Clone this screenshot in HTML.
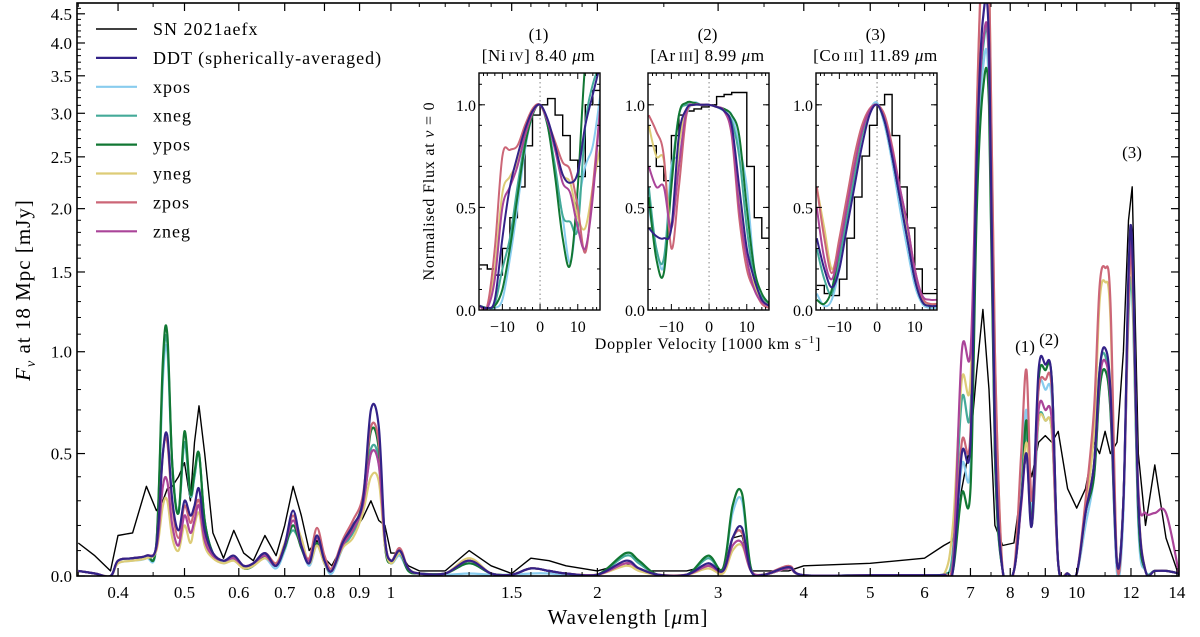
<!DOCTYPE html>
<html><head><meta charset="utf-8">
<style>
html,body{margin:0;padding:0;background:#fff;}
svg text{font-family:"Liberation Serif","DejaVu Serif",serif;fill:#000;}
</style></head>
<body>
<svg id="chart" width="1200" height="632" viewBox="0 0 1200 632" xmlns="http://www.w3.org/2000/svg">
<defs>
<clipPath id="mainclip"><rect x="77" y="3" width="1102" height="573"/></clipPath>
<clipPath id="ic0"><rect x="479" y="73" width="121" height="237"/></clipPath>
<clipPath id="ic1"><rect x="648" y="73" width="121" height="237"/></clipPath>
<clipPath id="ic2"><rect x="816" y="73" width="121" height="237"/></clipPath>
</defs>
<g id="main-series" clip-path="url(#mainclip)"></g>
<g id="axes"></g>
<g id="insets"></g>
<text x="628" y="624" font-size="21" letter-spacing="1" text-anchor="middle">Wavelength [<tspan font-style="italic">μ</tspan>m]</text>
<text transform="translate(30,290) rotate(-90)" font-size="21" letter-spacing="1" text-anchor="middle"><tspan font-style="italic">F</tspan><tspan font-style="italic" font-size="14" dy="5">ν</tspan><tspan dy="-5"> at 18 Mpc [mJy]</tspan></text>
<text x="1025" y="352" font-size="17" text-anchor="middle">(1)</text>
<text x="1049" y="345" font-size="17" text-anchor="middle">(2)</text>
<text x="1132" y="158" font-size="17" text-anchor="middle">(3)</text>
<g id="legend"></g>
</svg>
<script>
const wavelengths=[0.35,0.37,0.39,0.40,0.42,0.44,0.455,0.465,0.472,0.48,
0.49,0.50,0.51,0.517,0.525,0.535,0.55,0.57,0.59,0.61,
0.63,0.655,0.68,0.70,0.72,0.74,0.76,0.78,0.80,0.82,
0.85,0.88,0.91,0.935,0.96,0.98,1.0,1.03,1.06,1.1,
1.2,1.3,1.4,1.5,1.6,1.7,1.8,2.0,2.2,2.3,
2.45,2.7,2.9,3.05,3.15,3.25,3.35,3.5,3.8,4.0,
5.0,6.0,6.4,6.6,6.8,7.0,7.15,7.3,7.45,7.6,
7.8,8.1,8.3,8.45,8.6,8.8,9.0,9.2,9.4,9.7,
10.0,10.3,10.6,10.8,11.0,11.2,11.45,11.7,11.9,12.05,
12.3,12.6,13.0,13.5,14.1];
const fluxSN=[0.13,0.08,0.02,0.16,0.17,0.36,0.26,0.30,0.35,0.36,
0.40,0.46,0.30,0.55,0.72,0.50,0.17,0.07,0.18,0.09,
0.06,0.16,0.08,0.20,0.36,0.24,0.10,0.14,0.07,0.04,
0.12,0.17,0.23,0.30,0.22,0.20,0.09,0.09,0.04,0.02,
0.02,0.10,0.04,0.01,0.07,0.06,0.04,0.02,0.05,0.02,
0.02,0.02,0.04,0.02,0.15,0.16,0.02,0.02,0.02,0.04,
0.05,0.07,0.12,0.14,0.35,0.55,0.9,1.25,0.8,0.2,
0.12,0.13,0.35,0.5,0.4,0.55,0.58,0.55,0.6,0.35,
0.27,0.35,0.55,0.5,0.6,0.5,0.55,1.0,1.9,2.2,
0.5,0.2,0.45,0.15,0.0];
const fluxDDT=[0.02,0.01,0.0,0.06,0.07,0.08,0.12,0.50,0.58,0.30,
0.18,0.30,0.24,0.28,0.35,0.18,0.09,0.06,0.08,0.04,
0.05,0.09,0.04,0.12,0.26,0.12,0.05,0.16,0.06,0.02,
0.13,0.20,0.30,0.70,0.62,0.15,0.06,0.10,0.03,0.01,
0.01,0.06,0.01,0.005,0.03,0.02,0.01,0.005,0.06,0.03,
0.005,0.005,0.05,0.02,0.15,0.19,0.02,0.005,0.035,0.003,
0.003,0.003,0.005,0.02,0.5,0.55,2.5,4.4,4.0,0.6,
0.02,0.02,0.3,0.5,0.2,0.9,0.93,0.85,0.05,0.01,
0.01,0.25,0.45,0.9,1.02,0.8,0.05,0.3,1.5,1.7,
0.3,0.02,0.02,0.02,0.01];
const fluxXpos=[0.02,0.01,0.0,0.05,0.06,0.07,0.12,0.85,1.0,0.45,
0.25,0.55,0.32,0.40,0.50,0.22,0.09,0.05,0.07,0.03,
0.04,0.07,0.03,0.10,0.20,0.12,0.04,0.12,0.05,0.01,
0.11,0.18,0.28,0.50,0.45,0.12,0.05,0.08,0.02,0.01,
0.005,0.01,0.005,0.005,0.01,0.01,0.005,0.005,0.08,0.05,
0.005,0.005,0.07,0.03,0.25,0.30,0.03,0.005,0.03,0.003,
0.003,0.003,0.005,0.02,0.45,0.45,2.2,3.6,3.3,0.5,
0.02,0.02,0.35,0.7,0.25,0.8,0.8,0.75,0.05,0.01,
0.01,0.2,0.4,0.8,0.9,0.7,0.01,0.25,1.4,1.6,
0.2,0.02,0.02,0.02,0.01];
const fluxXneg=[0.02,0.01,0.0,0.06,0.07,0.08,0.13,0.90,1.05,0.45,
0.25,0.55,0.32,0.40,0.50,0.22,0.09,0.06,0.07,0.03,
0.04,0.08,0.04,0.12,0.18,0.12,0.05,0.13,0.05,0.02,
0.11,0.17,0.27,0.52,0.47,0.13,0.06,0.09,0.03,0.01,
0.01,0.05,0.01,0.005,0.03,0.02,0.01,0.005,0.08,0.05,
0.005,0.005,0.07,0.02,0.15,0.17,0.02,0.005,0.03,0.003,
0.003,0.003,0.005,0.1,0.75,0.7,2.5,3.9,3.6,0.5,
0.02,0.02,0.3,0.6,0.2,0.65,0.65,0.6,0.05,0.01,
0.01,0.25,0.45,0.9,0.98,0.75,0.05,0.3,1.2,1.35,
0.25,0.02,0.02,0.02,0.01];
const fluxYpos=[0.02,0.01,0.0,0.06,0.07,0.08,0.13,0.95,1.1,0.45,
0.25,0.60,0.33,0.42,0.50,0.22,0.09,0.06,0.07,0.03,
0.04,0.08,0.04,0.11,0.20,0.11,0.05,0.13,0.05,0.02,
0.12,0.19,0.30,0.60,0.52,0.12,0.05,0.09,0.02,0.01,
0.01,0.05,0.01,0.005,0.03,0.02,0.01,0.005,0.09,0.06,
0.005,0.005,0.08,0.03,0.28,0.33,0.03,0.005,0.03,0.003,
0.003,0.003,0.005,0.02,0.33,0.35,2.0,3.3,3.1,0.5,
0.02,0.02,0.3,0.65,0.2,0.85,0.9,0.85,0.05,0.01,
0.01,0.25,0.4,0.8,0.9,0.7,0.05,0.3,1.4,1.66,
0.25,0.02,0.02,0.02,0.01];
const fluxYneg=[0.02,0.01,0.0,0.05,0.06,0.07,0.10,0.28,0.30,0.15,
0.10,0.20,0.13,0.20,0.25,0.12,0.07,0.05,0.06,0.03,
0.04,0.07,0.05,0.13,0.22,0.15,0.05,0.12,0.05,0.02,
0.11,0.15,0.25,0.40,0.38,0.12,0.05,0.09,0.03,0.01,
0.01,0.07,0.01,0.005,0.03,0.02,0.01,0.005,0.04,0.02,
0.005,0.005,0.03,0.01,0.10,0.12,0.02,0.005,0.03,0.003,
0.003,0.003,0.005,0.2,0.85,0.85,3.0,6.0,5.5,1.0,
0.02,0.02,0.3,0.55,0.3,0.65,0.65,0.6,0.05,0.01,
0.01,0.25,0.6,1.3,1.43,1.2,0.05,0.3,1.3,1.45,
0.3,0.02,0.02,0.02,0.01];
const fluxZpos=[0.02,0.01,0.0,0.06,0.07,0.08,0.12,0.50,0.55,0.28,
0.15,0.28,0.21,0.26,0.30,0.16,0.09,0.06,0.08,0.04,
0.05,0.09,0.05,0.12,0.24,0.12,0.07,0.19,0.08,0.03,
0.14,0.22,0.32,0.62,0.55,0.15,0.06,0.11,0.03,0.01,
0.01,0.06,0.01,0.005,0.03,0.02,0.01,0.005,0.05,0.03,
0.005,0.005,0.04,0.02,0.15,0.17,0.02,0.005,0.04,0.003,
0.003,0.003,0.005,0.05,0.55,0.6,3.0,6.0,5.5,1.0,
0.02,0.02,0.5,0.9,0.3,0.8,0.85,0.8,0.05,0.01,
0.01,0.3,0.7,1.4,1.53,1.3,0.05,0.3,1.3,1.55,
0.3,0.02,0.02,0.02,0.01];
const fluxZneg=[0.02,0.01,0.0,0.06,0.07,0.08,0.11,0.36,0.38,0.20,
0.12,0.24,0.17,0.22,0.28,0.14,0.08,0.06,0.07,0.04,
0.05,0.08,0.04,0.12,0.22,0.12,0.06,0.15,0.06,0.02,
0.12,0.18,0.28,0.50,0.45,0.14,0.06,0.10,0.03,0.01,
0.01,0.06,0.01,0.005,0.03,0.02,0.01,0.005,0.05,0.03,
0.005,0.005,0.04,0.02,0.12,0.13,0.02,0.005,0.03,0.003,
0.003,0.003,0.005,0.05,1.0,1.0,2.6,4.0,3.7,0.6,
0.02,0.02,0.28,0.5,0.2,0.7,0.7,0.65,0.05,0.01,
0.01,0.25,0.45,0.85,0.95,0.75,0.05,0.3,1.4,1.6,
0.35,0.25,0.25,0.25,0.01];
const xTickValues=[0.4,0.5,0.6,0.7,0.8,0.9,1,1.5,2,3,4,5,6,7,8,9,10,12,14];
const xTickLabels=["0.4","0.5","0.6","0.7","0.8","0.9","1","1.5","2","3","4","5","6","7","8","9","10","12","14"];
const xMinorTicks=[0.35,0.45,1.1,1.2,1.3,1.4,1.6,1.7,1.8,1.9,2.5,3.5,4.5,5.5,6.5,7.5,8.5,9.5,11,13];
const yTickValues=[0,0.5,1.0,1.5,2.0,2.5,3.0,3.5,4.0,4.5];
const yTickLabels=["0.0","0.5","1.0","1.5","2.0","2.5","3.0","3.5","4.0","4.5"];

const velocities=[-16,-14,-12,-10,-8,-6,-4,-2,0,2,4,6,8,10,12,14,16];
const ni_SN=[0.22,0.2,0.17,0.3,0.45,0.6,0.8,0.95,1.0,1.03,0.95,0.85,0.73,0.65,1.0,1.07,1.05];
const ni_DDT=[0.02,0.01,0.05,0.35,0.6,0.75,0.88,0.97,1.0,0.93,0.8,0.66,0.62,0.67,0.9,1.05,1.2];
const ni_xpos=[0.02,0.01,0.01,0.05,0.25,0.5,0.78,0.95,1.0,0.9,0.68,0.45,0.23,0.5,0.7,0.8,1.05];
const ni_xneg=[0.02,0.01,0.03,0.2,0.35,0.6,0.82,0.96,1.0,0.9,0.7,0.46,0.43,0.4,0.9,1.1,1.2];
const ni_ypos=[0.02,0.01,0.02,0.1,0.3,0.55,0.8,0.95,1.0,0.9,0.65,0.35,0.22,0.6,1.2,1.3,1.3];
const ni_yneg=[0.02,0.01,0.2,0.57,0.65,0.72,0.85,0.96,1.0,0.92,0.8,0.66,0.62,0.45,0.4,0.6,0.8];
const ni_zpos=[0.02,0.02,0.3,0.75,0.78,0.8,0.9,0.98,1.0,0.92,0.82,0.72,0.68,0.5,0.28,0.6,1.0];
const ni_zneg=[0.02,0.01,0.15,0.5,0.6,0.7,0.85,0.96,1.0,0.92,0.78,0.62,0.57,0.4,0.3,0.55,1.0];
const ar_SN=[0.8,0.7,0.63,0.85,0.95,0.97,0.98,0.99,1.0,1.04,1.05,1.06,1.06,0.7,0.45,0.35,0.25];
const ar_DDT=[0.4,0.36,0.35,0.4,0.85,0.98,1.0,1.0,1.0,0.99,0.97,0.9,0.6,0.3,0.15,0.05,0.02];
const ar_xpos=[0.5,0.3,0.22,0.7,0.75,0.95,1.01,1.0,1.0,0.99,0.97,0.95,0.8,0.6,0.2,0.05,0.02];
const ar_xneg=[0.6,0.3,0.25,0.65,0.95,1.0,1.0,1.0,1.0,0.99,0.97,0.92,0.75,0.4,0.15,0.06,0.03];
const ar_ypos=[0.55,0.25,0.18,0.6,0.95,1.01,1.01,1.0,1.0,0.99,0.98,0.95,0.85,0.5,0.2,0.08,0.03];
const ar_yneg=[0.9,0.75,0.73,0.4,0.8,0.97,1.0,1.0,1.0,0.99,0.97,0.88,0.55,0.25,0.12,0.05,0.02];
const ar_zpos=[0.95,0.87,0.75,0.3,0.6,0.95,1.0,1.0,1.0,0.99,0.97,0.85,0.45,0.2,0.1,0.03,0.01];
const ar_zneg=[0.7,0.6,0.6,0.4,0.7,0.97,1.0,1.0,1.0,0.99,0.97,0.86,0.5,0.25,0.1,0.04,0.02];
const co_SN=[0.12,0.08,0.07,0.15,0.35,0.55,0.75,0.9,1.0,1.05,0.85,0.6,0.4,0.2,0.08,0.08,0.07];
const co_DDT=[0.35,0.2,0.11,0.2,0.4,0.6,0.8,0.95,1.0,0.92,0.75,0.55,0.35,0.15,0.04,0.02,0.02];
const co_xpos=[0.08,0.02,0.05,0.2,0.42,0.65,0.85,0.97,1.01,0.9,0.72,0.5,0.3,0.12,0.03,0.01,0.01];
const co_xneg=[0.3,0.15,0.08,0.25,0.45,0.65,0.85,0.96,1.0,0.92,0.75,0.55,0.35,0.15,0.04,0.02,0.02];
const co_ypos=[0.05,0.03,0.1,0.3,0.5,0.7,0.87,0.97,1.0,0.92,0.75,0.55,0.35,0.15,0.04,0.02,0.02];
const co_yneg=[0.6,0.4,0.2,0.33,0.5,0.7,0.87,0.97,1.0,0.93,0.78,0.58,0.4,0.18,0.05,0.03,0.03];
const co_zpos=[0.6,0.35,0.18,0.35,0.55,0.75,0.9,0.98,1.0,0.95,0.8,0.6,0.42,0.2,0.06,0.03,0.03];
const co_zneg=[0.5,0.25,0.15,0.3,0.5,0.7,0.87,0.97,1.0,0.93,0.78,0.6,0.42,0.2,0.07,0.05,0.05];
const insetTitles=["(1)","(2)","(3)"];
const insetLines=[["[Ni","IV","] 8.40 "],["[Ar","III","] 8.99 "],["[Co","III","] 11.89 "]];

const NS="http://www.w3.org/2000/svg";
function mk(tag,attrs,parent){const e=document.createElementNS(NS,tag);for(const k in attrs)e.setAttribute(k,attrs[k]);if(parent)parent.appendChild(e);return e;}
const L=77,R=1179,T=3,B=576;
const XMIN=0.3485,XMAX=14.1,K=(B-T)/Math.asinh(4.7);
function xS(w){return L+(R-L)*(Math.log10(w)-Math.log10(XMIN))/(Math.log10(XMAX)-Math.log10(XMIN));}
function yS(v){return B-K*Math.asinh(v);}
function smoothPath(pts){
  let d="M"+pts[0][0].toFixed(1)+","+pts[0][1].toFixed(1);
  for(let i=0;i<pts.length-1;i++){
    const p0=pts[i-1]||pts[i],p1=pts[i],p2=pts[i+1],p3=pts[i+2]||p2;
    const t=0.17;
    const c1=[p1[0]+(p2[0]-p0[0])*t,p1[1]+(p2[1]-p0[1])*t];
    const c2=[p2[0]-(p3[0]-p1[0])*t,p2[1]-(p3[1]-p1[1])*t];
    d+="C"+c1[0].toFixed(1)+","+c1[1].toFixed(1)+" "+c2[0].toFixed(1)+","+c2[1].toFixed(1)+" "+p2[0].toFixed(1)+","+p2[1].toFixed(1);
  }
  return d;
}
function linePath(pts){return "M"+pts.map(p=>p[0].toFixed(1)+","+p[1].toFixed(1)).join("L");}

const series=[
 {name:"SN 2021aefx",key:"sn",color:"#000000",w:1.4,main:fluxSN,ins:[ni_SN,ar_SN,co_SN]},
 {name:"DDT (spherically-averaged)",key:"ddt",color:"#332288",w:2.2,main:fluxDDT,ins:[ni_DDT,ar_DDT,co_DDT]},
 {name:"xpos",key:"xpos",color:"#88CCEE",w:2.2,main:fluxXpos,ins:[ni_xpos,ar_xpos,co_xpos]},
 {name:"xneg",key:"xneg",color:"#44AA99",w:2.2,main:fluxXneg,ins:[ni_xneg,ar_xneg,co_xneg]},
 {name:"ypos",key:"ypos",color:"#117733",w:2.2,main:fluxYpos,ins:[ni_ypos,ar_ypos,co_ypos]},
 {name:"yneg",key:"yneg",color:"#DDCC77",w:2.2,main:fluxYneg,ins:[ni_yneg,ar_yneg,co_yneg]},
 {name:"zpos",key:"zpos",color:"#CC6677",w:2.2,main:fluxZpos,ins:[ni_zpos,ar_zpos,co_zpos]},
 {name:"zneg",key:"zneg",color:"#AA4499",w:2.2,main:fluxZneg,ins:[ni_zneg,ar_zneg,co_zneg]}
];
const drawOrder=[0,2,3,4,5,6,7,1];

const gMain=document.getElementById("main-series");
drawOrder.forEach(i=>{
  const s=series[i];
  const pts=wavelengths.map((w,j)=>[xS(w),yS(s.main[j])]);
  const p=mk("path",{d:i===0?linePath(pts):smoothPath(pts),fill:"none",stroke:s.color,"stroke-width":s.w,"stroke-linejoin":"round"},gMain);
  
  
});

const gAx=document.getElementById("axes");
const frame=mk("rect",{x:L,y:T,width:R-L,height:B-T,fill:"none",stroke:"#000","stroke-width":1.6},gAx);


xTickValues.forEach((v,i)=>{
  const x=xS(v);
  mk("line",{x1:x,x2:x,y1:B,y2:B-8,stroke:"#000","stroke-width":1.2},gAx);
  mk("line",{x1:x,x2:x,y1:T,y2:T+8,stroke:"#000","stroke-width":1.2},gAx);
  const t=mk("text",{x:x,y:B+22,"font-size":17,"text-anchor":"middle"},gAx);
  t.textContent=xTickLabels[i];
  
  
});
xMinorTicks.forEach(v=>{
  const x=xS(v);
  mk("line",{x1:x,x2:x,y1:B,y2:B-4,stroke:"#000","stroke-width":1},gAx);
  mk("line",{x1:x,x2:x,y1:T,y2:T+4,stroke:"#000","stroke-width":1},gAx);
});
yTickValues.forEach((v,i)=>{
  const y=yS(v);
  mk("line",{x1:L,x2:L+8,y1:y,y2:y,stroke:"#000","stroke-width":1.2},gAx);
  mk("line",{x1:R,x2:R-8,y1:y,y2:y,stroke:"#000","stroke-width":1.2},gAx);
  const t=mk("text",{x:L-5,y:y+6,"font-size":17,"text-anchor":"end"},gAx);
  t.textContent=yTickLabels[i];
  
  
});
for(let m=1;m<47;m++){
  const v=m/10; if(m%5===0) continue;
  const y=yS(v);
  mk("line",{x1:L,x2:L+4,y1:y,y2:y,stroke:"#000","stroke-width":1},gAx);
  mk("line",{x1:R,x2:R-4,y1:y,y2:y,stroke:"#000","stroke-width":1},gAx);
}

const gLeg=document.getElementById("legend");
series.forEach((s,i)=>{
  const y=29+i*28.9;
  const g=mk("g",{},gLeg);
  
  
  mk("line",{x1:96,x2:137,y1:y,y2:y,stroke:s.color,"stroke-width":s.w},g);
  const t=mk("text",{x:153,y:y+6,"font-size":18,"letter-spacing":"1"},g);
  t.textContent=s.name;
});

const gIn=document.getElementById("insets");
const insetX=[479,648,816],IW=121,IT=73,IB=310,IYMAX=1.155,VMIN=-16.2,VMAX=15.9;
insetX.forEach((x0,k)=>{
  const g=mk("g",{},gIn);
  
  
  const vx=v=>x0+IW*(v-VMIN)/(VMAX-VMIN);
  const vy=f=>IB-(IB-IT)*f/IYMAX;
  mk("rect",{x:x0,y:IT,width:IW,height:IB-IT,fill:"#fff",stroke:"none"},g);
  const gl=mk("g",{"clip-path":"url(#ic"+k+")"},g);
  mk("line",{x1:vx(0),x2:vx(0),y1:IT,y2:IB,stroke:"#999","stroke-width":1.2,"stroke-dasharray":"1.5,3"},gl);
  drawOrder.forEach(i=>{
    const s=series[i];
    const pts=velocities.map((v,j)=>[vx(v),vy(s.ins[k][j])]);
    let path;
    if(i===0){
      let d="";pts.forEach((p,j)=>{d+=(j?"H"+p[0].toFixed(1)+"V":"M"+p[0].toFixed(1)+",")+p[1].toFixed(1);});
      path=mk("path",{d:d,fill:"none",stroke:"#000","stroke-width":1.4},gl);
    } else path=mk("path",{d:smoothPath(pts),fill:"none",stroke:s.color,"stroke-width":2},gl);
    
    
  });
  mk("rect",{x:x0,y:IT,width:IW,height:IB-IT,fill:"none",stroke:"#000","stroke-width":1.4},g);
  [-10,0,10].forEach(v=>{
    mk("line",{x1:vx(v),x2:vx(v),y1:IB,y2:IB-6,stroke:"#000"},g);
    mk("line",{x1:vx(v),x2:vx(v),y1:IT,y2:IT+6,stroke:"#000"},g);
    const t=mk("text",{x:vx(v),y:IB+22,"font-size":16,"text-anchor":"middle"},g);
    t.textContent=(v<0?"\u2212":"")+Math.abs(v);
  });
  [-15,-5,5,15,-14,-12,-8,-6,-4,-2,2,4,6,8,12,14].forEach(v=>{
    mk("line",{x1:vx(v),x2:vx(v),y1:IB,y2:IB-3,stroke:"#000"},g);
    mk("line",{x1:vx(v),x2:vx(v),y1:IT,y2:IT+3,stroke:"#000"},g);
  });
  [0,0.5,1.0].forEach(f=>{
    mk("line",{x1:x0,x2:x0+6,y1:vy(f),y2:vy(f),stroke:"#000"},g);
    mk("line",{x1:x0+IW,x2:x0+IW-6,y1:vy(f),y2:vy(f),stroke:"#000"},g);
    const t=mk("text",{x:x0-3,y:vy(f)+6,"font-size":16,"text-anchor":"end"},g);
    t.textContent=f.toFixed(1);
  });
  for(let f=0.1;f<1.15;f+=0.1){
    mk("line",{x1:x0,x2:x0+3,y1:vy(f),y2:vy(f),stroke:"#000"},g);
    mk("line",{x1:x0+IW,x2:x0+IW-3,y1:vy(f),y2:vy(f),stroke:"#000"},g);
  }
  const cx=x0+IW/2-1;
  const t1=mk("text",{x:cx,y:40,"font-size":17,"text-anchor":"middle"},g);
  t1.textContent=insetTitles[k];
  const t2=mk("text",{x:cx,y:61,"font-size":17,"letter-spacing":"0.6","text-anchor":"middle"},g);
  const a=mk("tspan",{},t2);a.textContent=insetLines[k][0];
  const b=mk("tspan",{"font-size":13,dx:"3"},t2);b.textContent=insetLines[k][1];
  const c=mk("tspan",{},t2);c.textContent=insetLines[k][2];
  const d=mk("tspan",{"font-style":"italic"},t2);d.textContent="μ";
  const e=mk("tspan",{},t2);e.textContent="m";
});
const yl=mk("text",{transform:"translate(434,191) rotate(-90)","font-size":16,"letter-spacing":"0.8","text-anchor":"middle"},gIn);


yl.innerHTML='Normalised Flux at <tspan font-style="italic">v</tspan> = 0';
const xl=mk("text",{x:708,y:349,"font-size":16,"letter-spacing":"0.8","text-anchor":"middle"},gIn);


xl.innerHTML='Doppler Velocity [1000 km s<tspan font-size="11" dy="-6">−1</tspan><tspan dy="6">]</tspan>';
</script>
</body></html>
